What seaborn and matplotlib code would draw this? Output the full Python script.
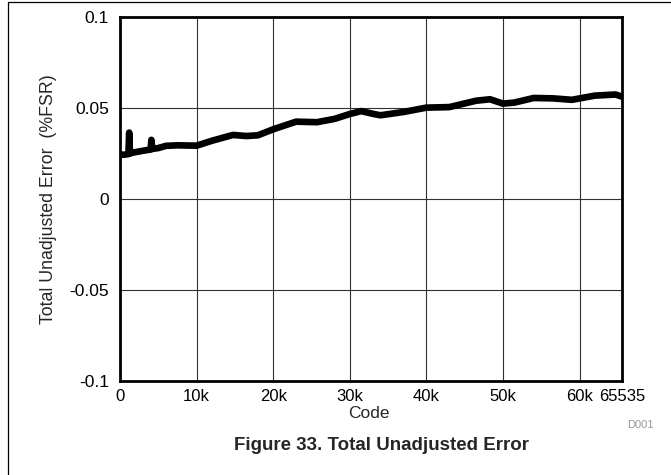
import matplotlib
matplotlib.use("Agg")
import matplotlib.pyplot as plt
import pandas as pd
import seaborn as sns
from matplotlib.lines import Line2D

# values
codes = [0, 500, 1100, 1200, 1300, 1700, 3000, 4000, 4100, 4200, 5000, 6000,
         7500, 10000, 12000, 14750, 16500, 18000, 20000, 23000, 25700, 28000,
         30000, 31500, 33000, 34000, 37000, 40000, 43000, 46500, 48300, 50000,
         51500, 54000, 56500, 59000, 62000, 64700, 65535]
tue = [0.0245, 0.0243, 0.0247, 0.0365, 0.0250, 0.0255, 0.0265, 0.0272, 0.0325,
       0.0275, 0.0280, 0.0292, 0.0295, 0.0293, 0.0320, 0.0352, 0.0346, 0.0350,
       0.0383, 0.0425, 0.0422, 0.0440, 0.0467, 0.0483, 0.0468, 0.0460, 0.0478,
       0.0502, 0.0505, 0.0540, 0.0548, 0.0524, 0.0530, 0.0555, 0.0553, 0.0545,
       0.0568, 0.0574, 0.0562]

xticks = [0, 10000, 20000, 30000, 40000, 50000, 60000, 65535]
xticklabels = ["0", "10k", "20k", "30k", "40k", "50k", "60k", "65535"]
yticks = [-0.1, -0.05, 0, 0.05, 0.1]
yticklabels = ["-0.1", "-0.05", "0", "0.05", "0.1"]

sns.set_style("white")
plt.rcParams["font.family"] = ["Liberation Sans", "DejaVu Sans"]

df = pd.DataFrame({"Code": codes, "TUE": tue})

fig = plt.figure(figsize=(6.71, 4.75), dpi=100)
ax = fig.add_axes([120 / 671, 94 / 475, 502 / 671, 364 / 475])

sns.lineplot(data=df, x="Code", y="TUE", ax=ax, color="black", linewidth=4.8,
             estimator=None, sort=False)

ax.set_xlim(0, 65535)
ax.set_ylim(-0.1, 0.1)
ax.set_xticks(xticks)
ax.set_xticklabels(xticklabels)
ax.set_yticks(yticks)
ax.set_yticklabels(yticklabels)
ax.tick_params(length=0, labelsize=12.5, colors="black")
ax.tick_params(axis="y", pad=8)
ax.tick_params(axis="x", pad=6, labelsize=12)
ax.grid(True, color="#303030", linewidth=0.8)
for s in ax.spines.values():
    s.set_visible(True)
    s.set_color("black")
    s.set_linewidth(2.0)
ax.set_xlabel("Code", fontsize=12.5)
ax.set_ylabel("Total Unadjusted Error  (%FSR)", fontsize=12.8)
ax.xaxis.set_label_coords(249 / 502, -33 / 364)
ax.yaxis.set_label_coords(-71 / 502, 0.5)
ax.xaxis.label.set_va("center")
ax.yaxis.label.set_va("center")

fig.text(640 / 671, 1 - 425 / 475, "D001", fontsize=8, color="#999999",
         ha="center", va="center")
fig.text(381 / 671, 1 - 446 / 475, "Figure 33. Total Unadjusted Error",
         fontsize=13.5, fontweight="bold", ha="center", va="center")

# outer figure frame (top and left edges visible in the reference)
fig.add_artist(Line2D([8 / 671, 8 / 671], [0, 1 - 2 / 475], transform=fig.transFigure,
                      color="black", linewidth=0.9))
fig.add_artist(Line2D([8 / 671, 1], [1 - 2 / 475, 1 - 2 / 475], transform=fig.transFigure,
                      color="black", linewidth=0.9))

fig.savefig("out.png", dpi=100)
plt.close(fig)
